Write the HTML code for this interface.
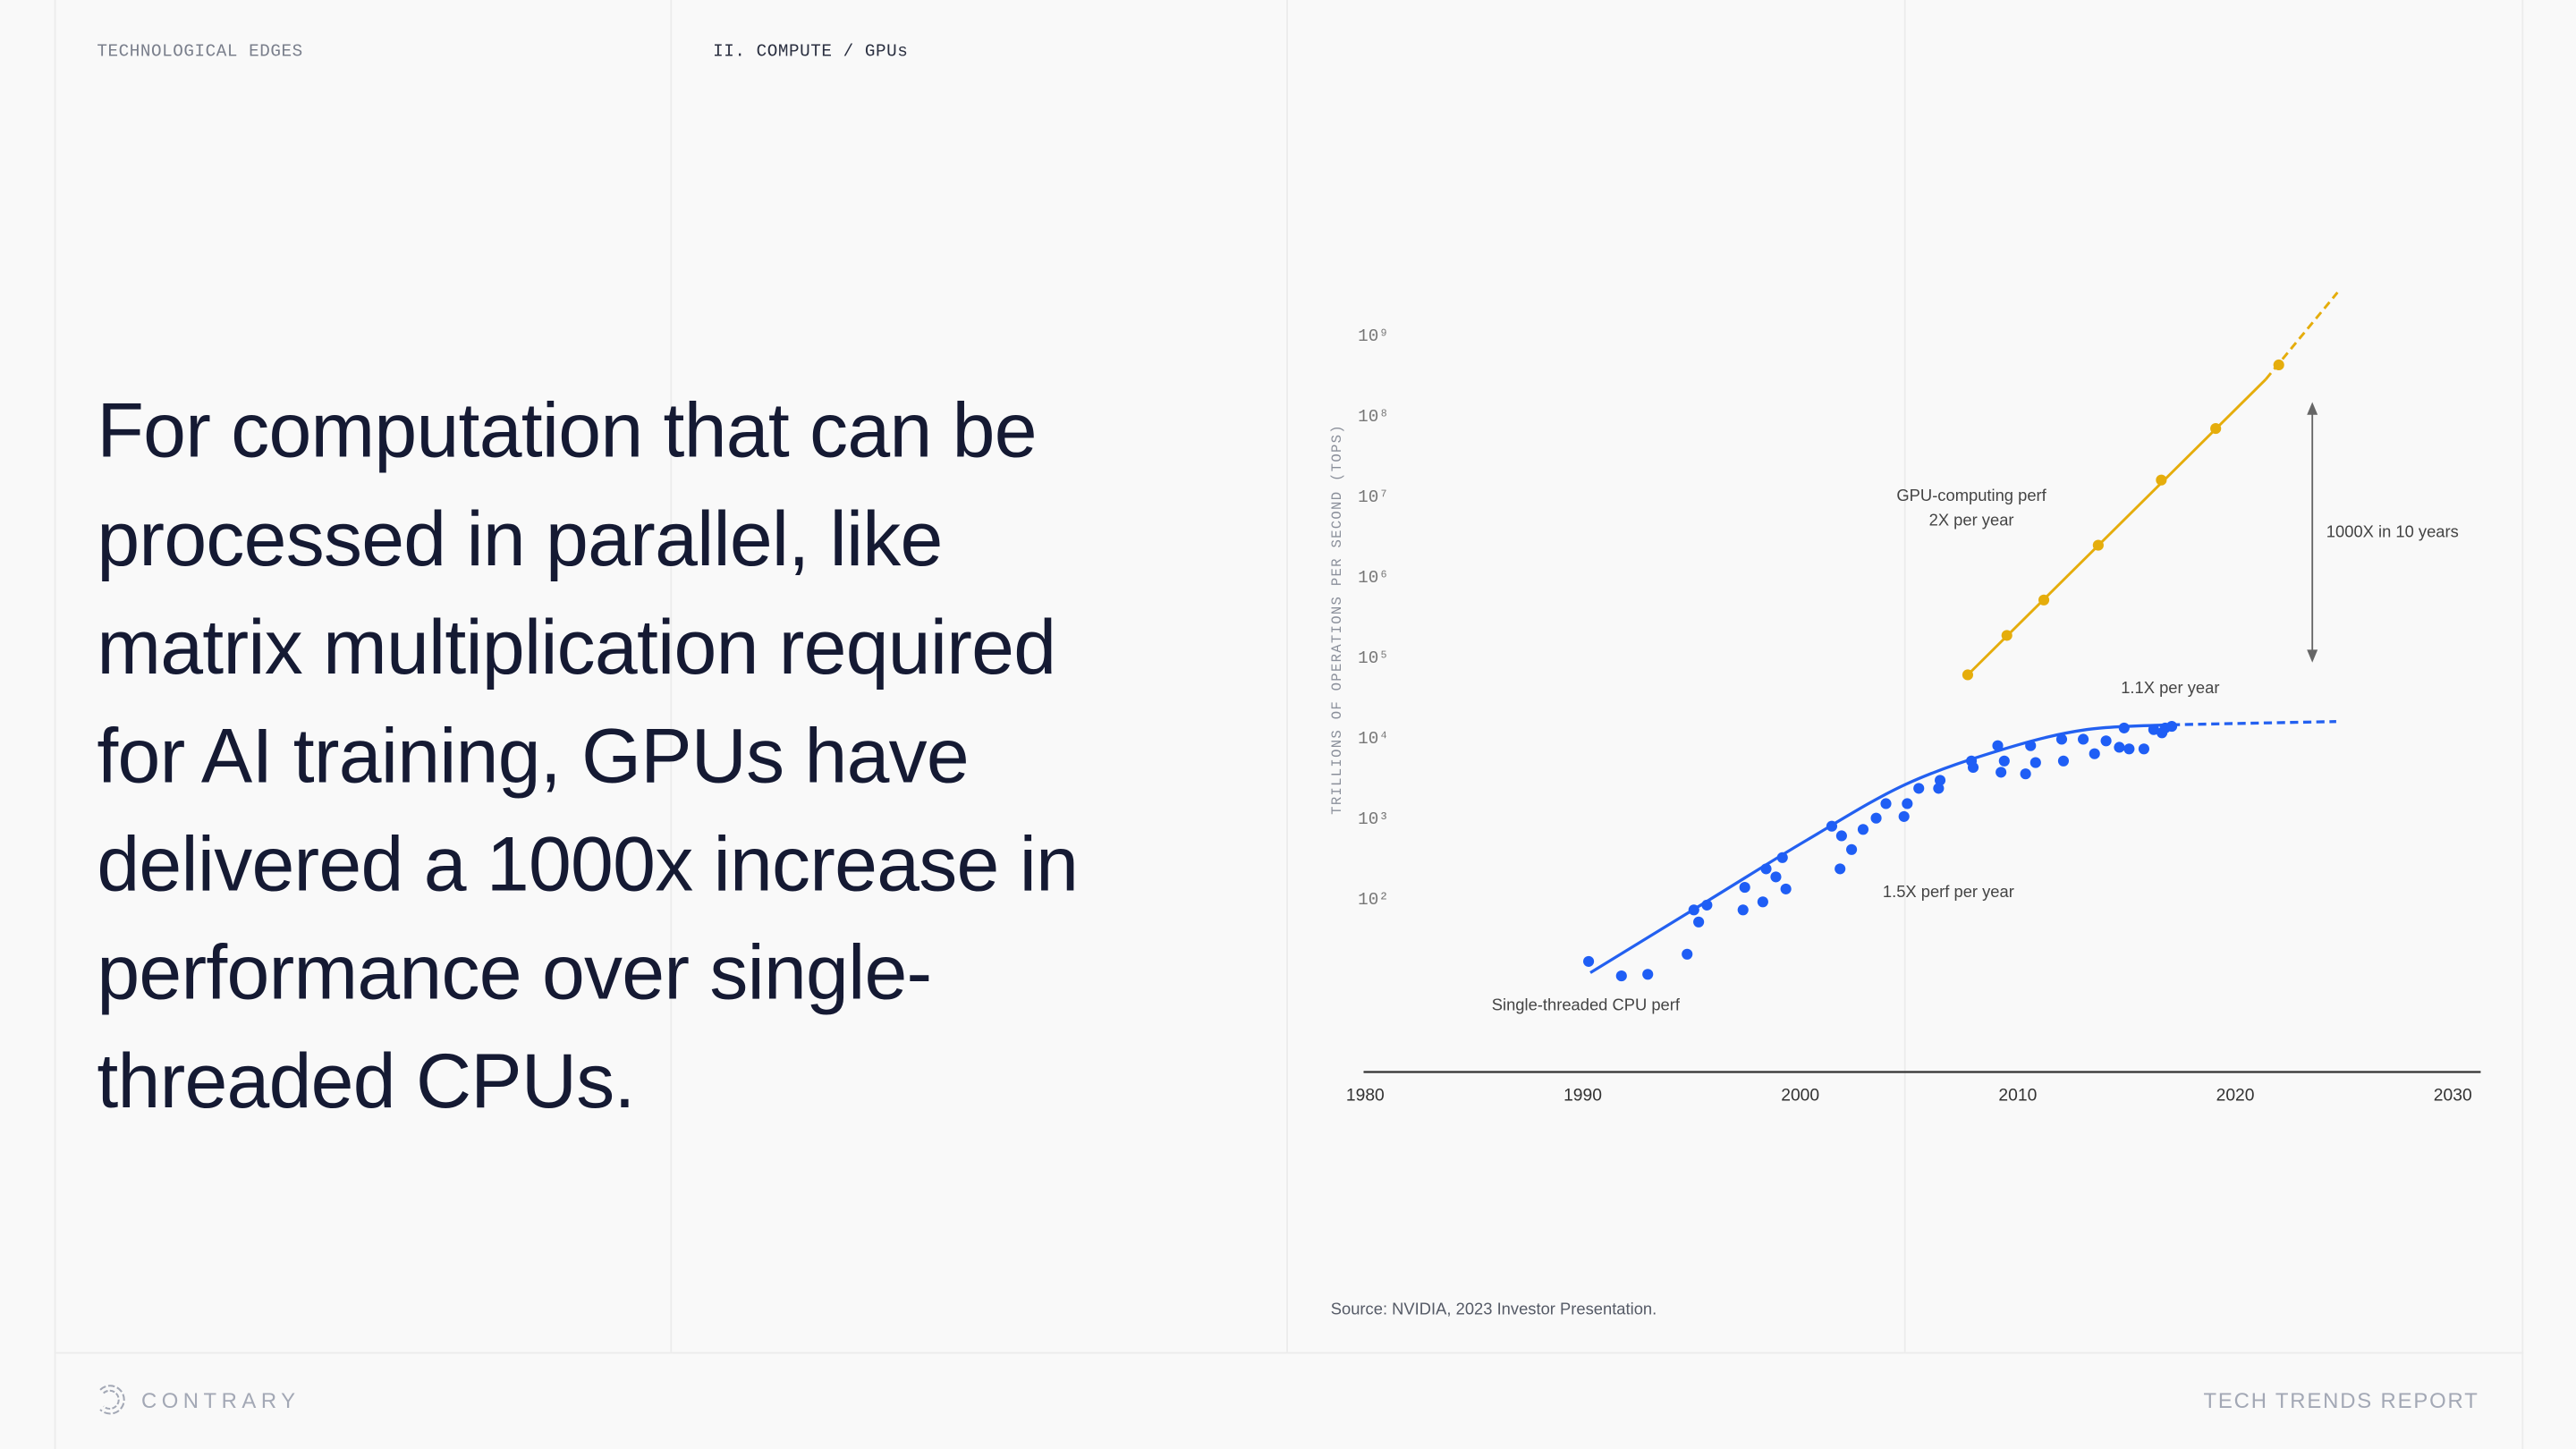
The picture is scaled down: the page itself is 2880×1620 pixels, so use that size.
<!DOCTYPE html>
<html><head><meta charset="utf-8"><style>
html,body{margin:0;padding:0;background:#f9f9f9;}
#stage{position:absolute;left:0;top:0;width:1568px;height:882px;transform:scale(1.836735);transform-origin:0 0;background:#f9f9f9;font-family:"Liberation Sans",sans-serif;overflow:hidden;}
.vl{position:absolute;top:0;width:1px;height:823px;background:#ececec;}
.mono{font-family:"Liberation Mono",monospace;font-size:10.5px;position:absolute;top:26px;letter-spacing:0.3px;}
#heading{position:absolute;left:59px;top:229px;font-size:46.8px;line-height:66px;color:#151a33;letter-spacing:-0.4px;font-weight:300;}
</style></head><body>
<div id="stage">
<div class="vl" style="left:33px"></div>
<div class="vl" style="left:408px"></div>
<div class="vl" style="left:783px"></div>
<div class="vl" style="left:1159px"></div>
<div class="vl" style="left:1535px;height:882px"></div>
<div class="vl" style="left:33px;top:823px;height:59px"></div>
<div style="position:absolute;left:33px;top:823px;width:1503px;height:1px;background:#ececec"></div>
<div class="mono" style="left:59px;color:#7a7f8c">TECHNOLOGICAL EDGES</div>
<div class="mono" style="left:434px;color:#2a2f40">II. COMPUTE / GPUs</div>
<div id="heading">For computation that can be<br>processed in parallel, like<br>matrix multiplication required<br>for AI training, GPUs have<br>delivered a 1000x increase in<br>performance over single-<br>threaded CPUs.</div>
<svg style="position:absolute;left:57px;top:842px" width="20" height="20" viewBox="0 0 20 20">
<g fill="none" stroke="#a3a8b5" stroke-width="1.1"><path d="M4 4 A8.5 8.5 0 1 1 4 16" stroke-dasharray="4 1.5"/><path d="M6 6 A5.5 5.5 0 1 1 6 14" stroke-dasharray="3 1.2"/></g></svg>
<div style="position:absolute;left:86px;top:845px;font-size:13px;letter-spacing:3px;color:#a3a8b5">CONTRARY</div>
<div style="position:absolute;right:59px;top:845px;font-size:13px;letter-spacing:1px;color:#a3a8b5">TECH TRENDS REPORT</div>
<div style="position:absolute;left:810px;top:792px;font-size:10px;color:#555a66">Source: NVIDIA, 2023 Investor Presentation.</div>
<svg id="chart" style="position:absolute;left:0;top:0" width="1568" height="882"></svg>
</div>
<script>
const xTicks=[1980,1990,2000,2010,2020,2030];
const yTicksExp=[2,3,4,5,6,7,8,9];
const supDigits=['⁰','¹','²','³','⁴','⁵','⁶','⁷','⁸','⁹'];
const gpuYears=[2007.7,2009.5,2011.2,2013.7,2016.6,2019.1,2022.0];
const gpuLog10=[4.78,5.27,5.71,6.39,7.20,7.84,8.63];
const gpuProjYears=[2021.4,2024.7];
const gpuProjLog10=[8.45,9.53];
const cpuYears=[1990.27,1991.78,1992.99,1994.80,1995.11,1995.33,1995.71,1997.37,1997.45,1998.28,1998.43,1998.88,1999.18,1999.34,2001.45,2001.83,2001.90,2002.36,2002.89,2003.49,2003.94,2004.77,2004.92,2005.45,2006.36,2006.43,2007.87,2007.95,2009.08,2009.23,2009.38,2010.36,2010.59,2010.82,2012.02,2012.10,2013.01,2013.53,2014.06,2014.67,2014.89,2015.12,2015.80,2016.25,2016.63,2016.78,2017.08];
const cpuLog10=[1.22,1.04,1.06,1.31,1.86,1.71,1.92,1.86,2.14,1.96,2.37,2.27,2.51,2.12,2.90,2.37,2.78,2.61,2.86,3.00,3.18,3.02,3.18,3.37,3.37,3.47,3.71,3.63,3.90,3.57,3.71,3.55,3.90,3.69,3.98,3.71,3.98,3.80,3.96,3.88,4.12,3.86,3.86,4.10,4.06,4.12,4.14];
const cpuTrendYears=[1990.35,1995.79,2000.32,2004.85,2009.38,2013.16,2017.08];
const cpuTrendLog10=[1.08,1.98,2.73,3.42,3.86,4.10,4.16];
const cpuProjYears=[2017.08,2024.64];
const cpuProjLog10=[4.16,4.20];

const NS='http://www.w3.org/2000/svg';
const svg=document.getElementById('chart');
const X=y=>831+(y-1980)*13.24;
const Y=e=>547-(e-2)*49;
function mk(tag,attrs,parent){const el=document.createElementNS(NS,tag);for(const k in attrs)el.setAttribute(k,attrs[k]);(parent||svg).appendChild(el);return el;}
function txt(x,y,s,size,fill,anchor,extra){const t=mk('text',Object.assign({x:x,y:y,'font-size':size,fill:fill,'text-anchor':anchor||'start','font-family':'Liberation Sans, sans-serif'},extra||{}));t.textContent=s;return t;}

const axis=mk('line',{x1:830,y1:652.5,x2:1510,y2:652.5,stroke:'#333',"stroke-width":1.2});


xTicks.forEach(v=>{const t=txt(X(v),670,String(v),10.5,'#333','middle');

});
yTicksExp.forEach(e=>{const t=txt(836,Y(e)+3.5,'10'+supDigits[e],10.5,'#777','middle',{'font-family':'Liberation Mono, monospace'});

});
const yt=txt(0,0,'TRILLIONS OF OPERATIONS PER SECOND (TOPS)',8.5,'#8a8f9a','middle',{'font-family':'Liberation Mono, monospace','letter-spacing':'0.7','transform':'translate(816,377) rotate(-90)'});



function smooth(xs,ys){const p=xs.map((x,i)=>[X(x),Y(ys[i])]);let d='M'+p[0][0]+','+p[0][1];
for(let i=0;i<p.length-1;i++){const p0=p[i-1]||p[i],p1=p[i],p2=p[i+1],p3=p[i+2]||p2;
d+=' C'+(p1[0]+(p2[0]-p0[0])/6)+','+(p1[1]+(p2[1]-p0[1])/6)+' '+(p2[0]-(p3[0]-p1[0])/6)+','+(p2[1]-(p3[1]-p1[1])/6)+' '+p2[0]+','+p2[1];}return d;}

const cpuLine=mk('path',{d:smooth(cpuTrendYears,cpuTrendLog10),fill:'none',stroke:'#2360f0','stroke-width':1.8});


const cpuProj=mk('line',{x1:X(cpuProjYears[0]),y1:Y(cpuProjLog10[0]),x2:X(cpuProjYears[1]),y2:Y(cpuProjLog10[1]),stroke:'#2360f0','stroke-width':1.8,'stroke-dasharray':'5 3'});


cpuYears.forEach((yr,i)=>{const c=mk('circle',{cx:X(yr),cy:Y(cpuLog10[i]),r:3.3,fill:'#1f5ef5'});

});

const gpuLine=mk('line',{x1:X(gpuYears[0]),y1:Y(gpuLog10[0]),x2:X(gpuProjYears[0]),y2:Y(gpuProjLog10[0]),stroke:'#e5ad0c','stroke-width':1.6});


const gpuProj=mk('line',{x1:X(gpuProjYears[0]),y1:Y(gpuProjLog10[0]),x2:X(gpuProjYears[1]),y2:Y(gpuProjLog10[1]),stroke:'#e5ad0c','stroke-width':1.6,'stroke-dasharray':'5 3'});


gpuYears.forEach((yr,i)=>{const c=mk('circle',{cx:X(yr),cy:Y(gpuLog10[i]),r:3.3,fill:'#e5ad0c'});

});

const arr=mk('g',{stroke:'#666','stroke-width':1,fill:'#666'});


mk('line',{x1:1407.5,y1:250,x2:1407.5,y2:398},arr);
mk('path',{d:'M1405,252 L1407.5,246 L1410,252 Z'},arr);
mk('path',{d:'M1405,396 L1407.5,402 L1410,396 Z'},arr);

const ann=[[1200,305,'GPU-computing perf','middle','gpu-label'],[1200,320,'2X per year','middle','gpu-rate-label'],[1416,327,'1000X in 10 years','start','gap-label'],[1291,422,'1.1X per year','start','cpu-recent-rate-label'],[1146,546,'1.5X perf per year','start','cpu-rate-label'],[908,615,'Single-threaded CPU perf','start','cpu-label']];
ann.forEach(a=>{const t=txt(a[0],a[1],a[2],10,'#444',a[3]);

});
</script>
</body></html>
